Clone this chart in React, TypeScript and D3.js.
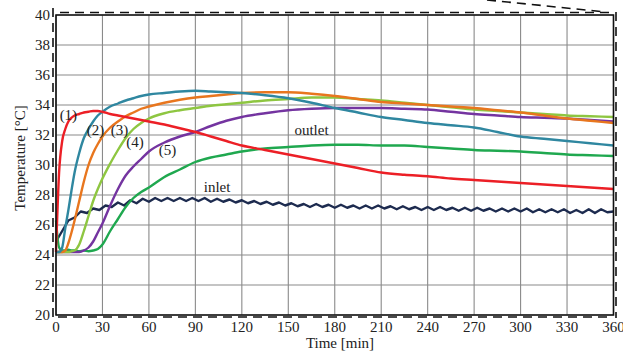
import React from "react";
import * as d3 from "d3";

const tMain = [0,2,4,6,8,10,12,15,18,21,24,27,30,35,40,45,50,55,60,70,80,90,100,110,120,135,150,165,180,195,210,225,240,255,270,285,300,315,330,345,360];

const s1 = [24.2,29.5,31.6,32.4,32.9,33.15,33.3,33.4,33.5,33.55,33.6,33.6,33.55, 33.4,33.3,33.2,33.1,33.0,32.9, 32.7,32.45,32.2,31.9,31.6,31.3, 31.0,30.7,30.4,30.1, 29.8,29.5,29.35,29.25, 29.1,29.0,28.9,28.8, 28.7,28.6,28.5,28.4];
const s2 = [24.2,24.2,24.5,25.8,27.0,28.3,29.5,30.8,31.8,32.4,32.9,33.3,33.55, 33.9,34.1,34.3,34.45,34.6,34.7, 34.8,34.9,34.95,34.9,34.85,34.8, 34.65,34.45,34.15,33.8, 33.5,33.2,33.0,32.8, 32.65,32.5,32.2,31.9, 31.75,31.6,31.45,31.3];
const s3 = [24.2,24.2,24.2,24.3,24.8,25.5,26.3,27.6,28.9,30.0,30.8,31.4,31.9, 32.5,32.9,33.25,33.5,33.75,33.9, 34.15,34.35,34.5,34.6,34.7,34.8, 34.85,34.85,34.75,34.6, 34.4,34.2,34.1,34.0, 33.9,33.8,33.65,33.5, 33.3,33.1,32.95,32.8];
const s4 = [24.2,24.2,24.2,24.2,24.2,24.25,24.3,24.7,25.6,26.6,27.6,28.4,29.1, 30.1,31.0,31.8,32.4,32.8,33.1, 33.45,33.65,33.8,33.95,34.05,34.15, 34.3,34.4,34.5,34.5, 34.4,34.3,34.15,34.0, 33.85,33.7,33.6,33.5, 33.4,33.3,33.25,33.2];
const s5 = [24.2,24.2,24.2,24.2,24.2,24.2,24.2,24.2,24.3,24.5,24.9,25.5,26.1, 27.3,28.4,29.3,29.9,30.4,30.9, 31.5,31.9,32.2,32.6,32.95,33.2, 33.45,33.65,33.75,33.8, 33.8,33.8,33.75,33.7, 33.55,33.4,33.3,33.2, 33.15,33.1,33.0,32.9];
const outlet = [26.3,24.5,24.3,24.3,24.35,24.3,24.3,24.25,24.3,24.25,24.3,24.4,24.7, 25.6,26.4,27.2,27.8,28.2,28.5, 29.2,29.7,30.2,30.5,30.7,30.9, 31.1,31.2,31.3,31.35, 31.35,31.3,31.3,31.2, 31.1,31.0,30.95,30.9, 30.8,30.7,30.65,30.6];

const tInlet = [0,4,8,12,16,20,24,28,32,36,40,44,48,52,56,60,64,68,72,76,80,84,88,92,96,100,104,108,112,116,120,124,128,132,136,140,144,148,152,156,160,164,168,172,176,180,184,188,192,196,200,204,208,212,216,220,224,228,232,236,240,244,248,252,256,260,264,268,272,276,280,284,288,292,296,300,304,308,312,316,320,324,328,332,336,340,344,348,352,356,360];
const inlet = [24.9,25.6,26.3,26.5,26.9,26.8,27.1,27.0,27.3,27.2,27.5,27.3,27.65,27.45,27.75,27.55,27.8,27.6,27.8,27.6,27.8,27.6,27.8,27.6,27.8,27.55,27.75,27.55,27.7,27.5,27.65,27.45,27.6,27.4,27.55,27.35,27.5,27.3,27.45,27.25,27.4,27.2,27.4,27.2,27.35,27.15,27.35,27.15,27.3,27.1,27.3,27.1,27.3,27.1,27.25,27.05,27.25,27.05,27.2,27.0,27.2,27.0,27.2,27.0,27.15,26.95,27.15,26.95,27.15,26.95,27.1,26.9,27.1,26.9,27.1,26.9,27.1,26.85,27.05,26.85,27.05,26.85,27.05,26.8,27.0,26.8,27.05,26.8,27.05,26.85,26.9];

const xTicks = [0,30,60,90,120,150,180,210,240,270,300,330,360];
const yTicks = [20,22,24,26,28,30,32,34,36,38,40];

const seriesNames = ["outlet", "(5)", "(4)", "(3)", "(2)", "(1)"];
const seriesValues = [outlet, s5, s4, s3, s2, s1];
const seriesColors = ["#1fa84f", "#7434a0", "#8ec641", "#e8761e", "#2f87a0", "#ec1f26"];

const labels = [
  { text: "(1)", t: 8, v: 33.0 },
  { text: "(2)", t: 25.5, v: 32.0 },
  { text: "(3)", t: 41, v: 32.0 },
  { text: "(4)", t: 51, v: 31.2 },
  { text: "(5)", t: 72, v: 30.7 },
  { text: "inlet", t: 104, v: 28.2 },
  { text: "outlet", t: 165, v: 32.0 },
];

export default function App() {
  const W = 623, H = 352;
  const x = d3.scaleLinear().domain([0, 360]).range([56, 613.5]);
  const y = d3.scaleLinear().domain([20, 40]).range([315, 15]);
  const font = "'Liberation Serif', 'Times New Roman', serif";

  const line = d3
    .line<[number, number]>()
    .x((d) => x(d[0]))
    .y((d) => y(d[1]))
    .curve(d3.curveMonotoneX);
  const lineLin = d3
    .line<[number, number]>()
    .x((d) => x(d[0]))
    .y((d) => y(d[1]));

  return (
    <svg width={W} height={H} style={{ position: "absolute", left: 0, top: 0, background: "#fff" }}>
      <rect x={0} y={0} width={W} height={H} fill="#fff" />
      {/* grid */}
      {xTicks.map((t) => (
        <line key={"gx" + t} x1={x(t)} x2={x(t)} y1={y(40)} y2={y(20)} stroke="#8a8a8a" strokeWidth={1.1} />
      ))}
      {yTicks.map((v) => (
        <line key={"gy" + v} x1={x(0)} x2={x(360)} y1={y(v)} y2={y(v)} stroke="#8a8a8a" strokeWidth={1.1} />
      ))}
      {/* inlet */}
      <path
        d={lineLin(tInlet.map((t, i) => [t, inlet[i]] as [number, number])) || ""}
        fill="none"
        stroke="#1d2b4f"
        strokeWidth={2.4}
        strokeLinejoin="round"
      />
      {seriesValues.map((vals, k) => (
        <path
          key={seriesNames[k]}
          d={line(tMain.map((t, i) => [t, vals[i]] as [number, number])) || ""}
          fill="none"
          stroke={seriesColors[k]}
          strokeWidth={2.4}
          strokeLinejoin="round"
        />
      ))}
      {/* plot border */}
      <path
        d={`M${x(0)},${y(40)}H${x(360)}V${y(20)}H${x(0)}Z`}
        fill="none"
        stroke="#111"
        strokeWidth={1.6}
      />
      {/* dashed outer frame */}
      <g stroke="#111" strokeWidth={1.6} strokeDasharray="9,6" fill="none">
        <line x1={53} x2={53} y1={8} y2={318} />
        <line x1={60} x2={612} y1={12.5} y2={12.5} />
        <line x1={616} x2={616} y1={12} y2={318} />
        <line x1={58} x2={612} y1={317} y2={317} />
        <line x1={487} x2={606} y1={0} y2={12} />
      </g>
      {/* tick labels */}
      {yTicks.map((v) => (
        <text
          key={"ty" + v}
          x={50}
          y={y(v) + 5}
          textAnchor="end"
          fontFamily={font}
          fontSize={15}
          fill="#222"
        >
          {v}
        </text>
      ))}
      {xTicks.map((t) => (
        <text
          key={"tx" + t}
          x={x(t)}
          y={332}
          textAnchor="middle"
          fontFamily={font}
          fontSize={15}
          fill="#222"
        >
          {t}
        </text>
      ))}
      <text x={340} y={348} textAnchor="middle" fontFamily={font} fontSize={15} fill="#222">
        Time [min]
      </text>
      <text
        transform={`translate(25,158) rotate(-90)`}
        textAnchor="middle"
        fontFamily={font}
        fontSize={15}
        fill="#222"
      >
        Temperature [°C]
      </text>
      {labels.map((l) => (
        <text
          key={l.text}
          x={x(l.t)}
          y={y(l.v)}
          textAnchor="middle"
          fontFamily={font}
          fontSize={15}
          fill="#222"
        >
          {l.text}
        </text>
      ))}
    </svg>
  );
}
